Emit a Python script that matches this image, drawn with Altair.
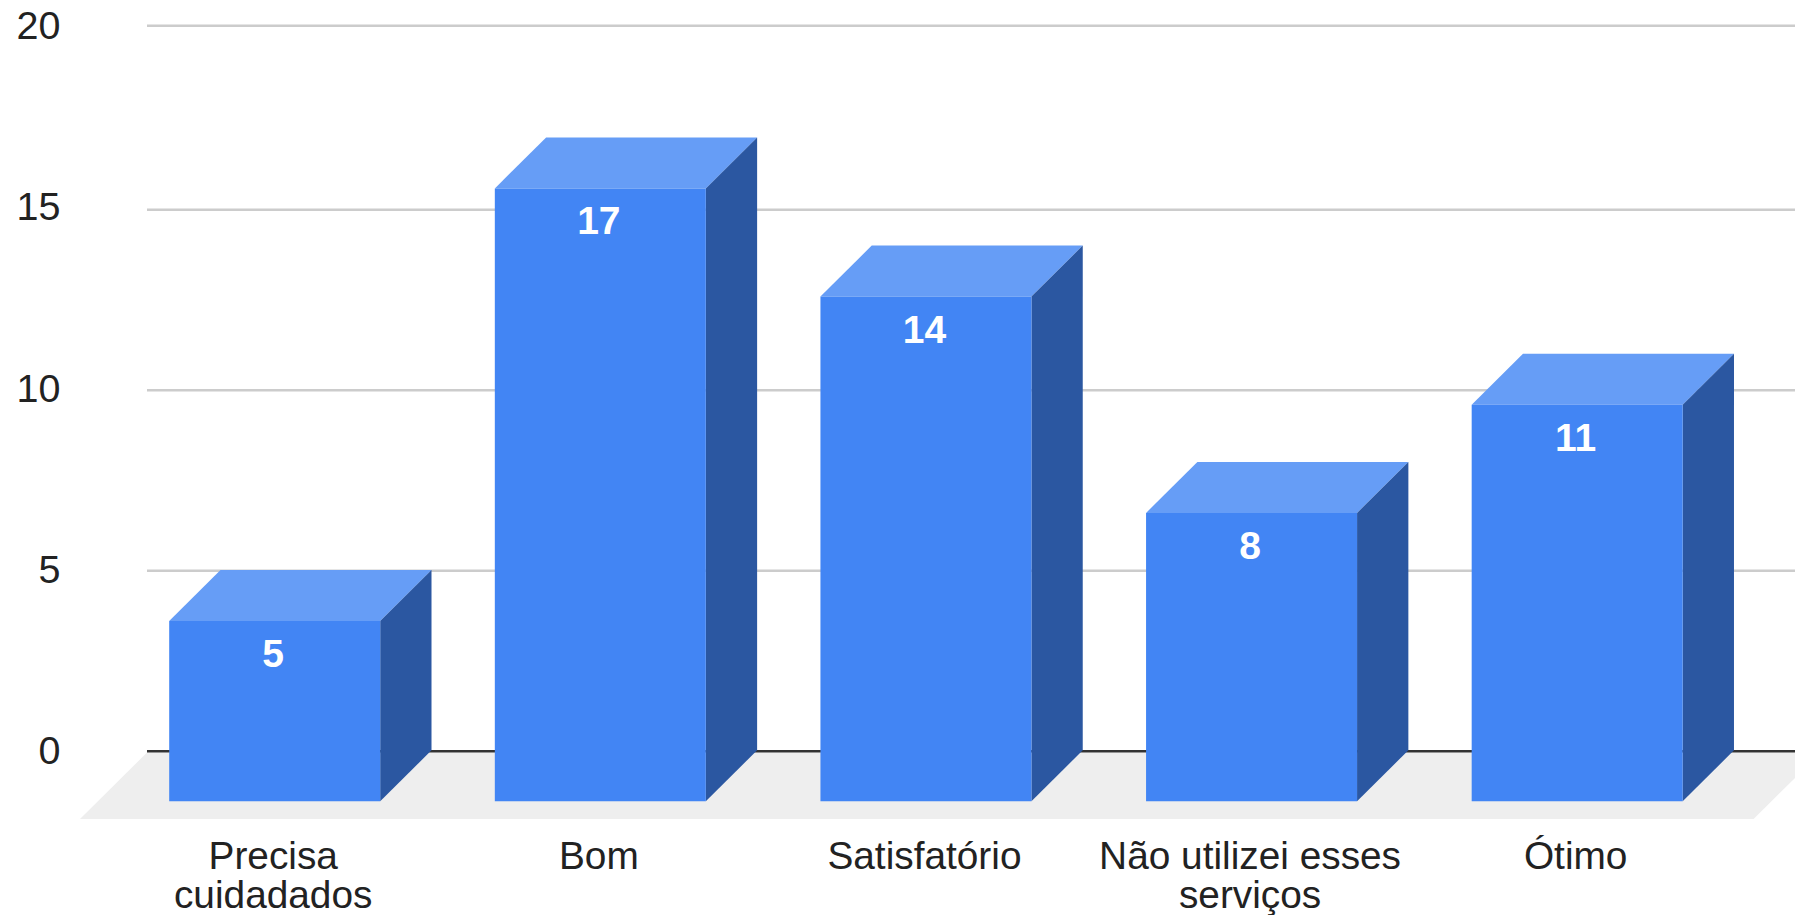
import altair as alt
import pandas as pd

categories = ["Precisa|cuidadados", "Bom", "Satisfatório", "Não utilizei esses|serviços", "Ótimo"]
values = [5, 17, 14, 8, 11]
ticks = [0, 5, 10, 15, 20]

FONT = "Liberation Sans"
FRONT, TOP, SIDE = "#4285f4", "#669df6", "#2b57a1"

# Layout (page pixels, page margin = 8)
PLOT_L, PLOT_R, PLOT_T, PLOT_B, PAGE_H = 80, 1795, 8, 819, 915
STEP, C0 = 325.62, 274.7          # bar spacing, centre of first bar
HALF = 105.5 / STEP               # half bar width in x units
DX = 51.3 / STEP                  # depth in x units
UNIT = 36.05                      # bar pixels per value unit
BASE = 801.3                      # page y of the bars' front base
DY = 51 / UNIT                    # depth in value units

x_scale = alt.Scale(domain=[(PLOT_L - C0) / STEP, (PLOT_R - C0) / STEP], nice=False, zero=False)
bar_y = alt.Scale(domain=[0, 20], range=[BASE - PLOT_T, BASE - PLOT_T - 20 * UNIT], nice=False, zero=False)
grid_y = alt.Scale(domain=[0, 15, 20], range=[751.3 - PLOT_T, 209.7 - PLOT_T, 25.7 - PLOT_T], nice=False, zero=False)
label_y = alt.Scale(domain=[0, 20], range=[751.9 - PLOT_T, 26.4 - PLOT_T], nice=False, zero=False)


def X(field):
    return alt.X(field, type="quantitative", scale=x_scale, axis=None)


def Y(field, scale):
    return alt.Y(field, type="quantitative", scale=scale, axis=None)


# Frames derived from the values
idx = list(range(len(values)))
front = pd.DataFrame({"i": idx, "value": values, "category": categories})
front["x0"] = front.i - HALF
front["x1"] = front.i + HALF
front["label_x"] = front.i - 1.5 / STEP

top_rows, side_rows = [], []
for i, v in zip(idx, values):
    top_rows += [
        {"bar": i, "y": v, "xa": i - HALF, "xb": i + HALF},
        {"bar": i, "y": v + DY, "xa": i - HALF + DX, "xb": i + HALF + DX},
    ]
    side_rows += [
        {"bar": i, "x": i + HALF, "ya": v, "yb": 0},
        {"bar": i, "x": i + HALF + DX, "ya": v + DY, "yb": DY},
    ]
top_df = pd.DataFrame(top_rows)
side_df = pd.DataFrame(side_rows)

floor_dx = 67 / STEP
x_left_bottom = (80 - C0) / STEP
x_right_bottom = (1753.6 - C0) / STEP
floor_df = pd.DataFrame({
    "y": [(BASE - 819) / UNIT, (BASE - 752.5) / UNIT],
    "xa": [x_left_bottom, x_left_bottom + floor_dx],
    "xb": [x_right_bottom, x_right_bottom + floor_dx],
})

grid_df = pd.DataFrame({"tick": ticks, "x0": (147 - C0) / STEP, "x1": (PLOT_R - C0) / STEP})

floor = alt.Chart(floor_df).mark_area(orient="horizontal", color="#eeeeee", clip=True).encode(
    y=Y("y", bar_y), x=X("xa"), x2="xb"
)
grid = alt.Chart(grid_df).mark_rule(strokeWidth=2.6, clip=True).encode(
    y=Y("tick", grid_y),
    x=X("x0"),
    x2="x1",
    color=alt.condition("datum.tick === 0", alt.value("#333333"), alt.value("#cccccc")),
)
y_axis = alt.Chart(grid_df).mark_rule(opacity=0).encode(
    y=alt.Y(
        "tick", type="quantitative", scale=label_y, title=None,
        axis=alt.Axis(
            values=ticks, labelFont=FONT, labelFontSize=39.5, labelColor="#222222",
            labelPadding=20, ticks=False, domain=False, grid=False, labelBaseline="middle",
            labelOverlap=False, labelBound=False, labelFlush=False,
        ),
    )
)
# Category labels hang below the floor: a text mark on the bars' value scale
cat_labels = alt.Chart(front).mark_text(
    font=FONT, fontSize=38.8, color="#222222", baseline="alphabetic", align="center",
    lineBreak="|", lineHeight=38.4, clip=False,
).encode(
    x=X("label_x"),
    y=alt.Y("label_pos:Q", scale=bar_y, axis=None),
    text="category:N",
).transform_calculate(label_pos=str((BASE - 869.3) / UNIT))

top = alt.Chart(top_df).mark_area(orient="horizontal", color=TOP, opacity=1).encode(
    y=Y("y", bar_y), x=X("xa"), x2="xb", detail="bar:N"
)
side = alt.Chart(side_df).mark_area(orient="vertical", color=SIDE, opacity=1).encode(
    x=X("x"), y=Y("ya", bar_y), y2="yb", detail="bar:N"
)
bars = alt.Chart(front).mark_rect(color=FRONT, opacity=1).encode(
    x=X("x0"), x2="x1", y=Y("value", bar_y), y2=alt.Y2(datum=0)
)
labels = alt.Chart(front).mark_text(
    font=FONT, fontSize=39, fontWeight="bold", color="white", baseline="middle", align="center", dy=34
).encode(x=X("label_x"), y=Y("value", bar_y), text=alt.Text("value:Q"))

chart = (
    alt.layer(floor, grid, y_axis, cat_labels, top, side, bars, labels)
    .resolve_scale(y="independent")
    .properties(
        width=PLOT_R - PLOT_L,
        height=PLOT_B - PLOT_T,
        autosize=alt.AutoSizeParams(type="none"),
        padding={"left": PLOT_L - 8, "top": 0, "right": 0, "bottom": PAGE_H - PLOT_B},
        background="white",
    )
    .configure_view(stroke=None)
)

chart.save("out.html", embed_options={"renderer": "svg", "actions": False})
